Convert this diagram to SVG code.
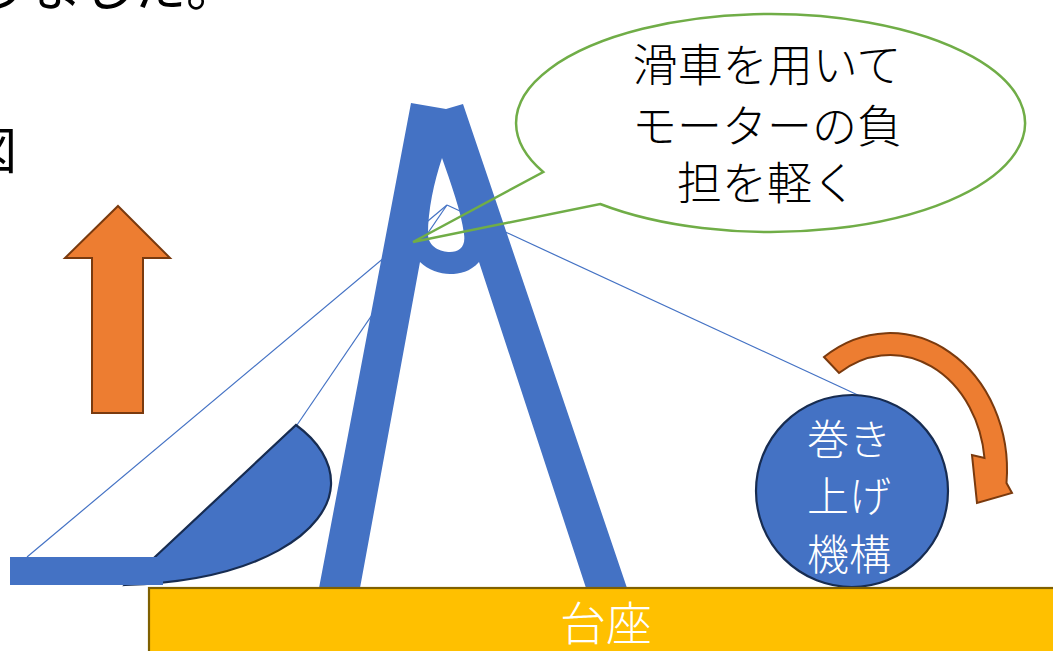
<svg xmlns="http://www.w3.org/2000/svg" width="1053" height="651" viewBox="0 0 1053 651">
  <style>
    .rope { stroke: #4472C4; stroke-width: 1.2; fill: none; }
    .frame { fill: #4472C4; }
    .dark-edge { stroke: #172C51; stroke-width: 2.2; }
    .orange { fill: #ED7D31; stroke: #7A3A0E; stroke-width: 2; stroke-linejoin: miter; }
    .jp { font-family: "Noto Sans CJK JP", "Noto Sans", sans-serif; }
    .light { font-weight: 300; }
    .white { fill: #FFFFFF; }
    .black { fill: #000000; }
  </style>

  <rect width="1053" height="651" fill="#FFFFFF"/>

  <!-- heading text cropped at the page edge -->
  <g id="heading">
    <text class="jp black" x="-22" y="6" font-size="52">りました。</text>
    <text class="jp black" x="-33" y="169" font-size="50">図</text>
  </g>

  <!-- rope running over the pulley -->
  <g id="connectors">
    <line class="rope" x1="27" y1="557" x2="447" y2="205"/>
    <line class="rope" x1="297" y1="425" x2="447" y2="205"/>
    <line class="rope" x1="447" y1="205" x2="860" y2="396"/>
  </g>

  <!-- A-frame with pulley hook -->
  <g id="a-frame">
    <path class="frame" fill-rule="evenodd" d="
      M411,103 L446,109 L463,104 L627,588 L586,588 L479,262
      C470,272 460,274 450,274 C440,274 428,270 420,262
      L360,588 L319,588 Z
      M442,158 C451,184 461,211 464,234 C466,247 459,252 450,252
      C441,252 428,247 428,234 C428,210 434,182 442,158 Z"/>
  </g>

  <!-- bucket on the boom -->
  <g id="bucket">
    <path class="frame dark-edge" d="M296,425 C318,441 332,462 331,485 C329,530 262,581 125,585 L296,425 Z"/>
    <rect class="frame" x="10" y="557" width="153" height="28"/>
  </g>

  <!-- lifting direction -->
  <g id="up-arrow">
    <path class="orange" d="M118,206 L170,258 L143,258 L143,413 L92,413 L92,258 L65,258 Z"/>
  </g>

  <!-- winding direction -->
  <g id="turn-arrow">
    <path class="orange" d="M824,357 A117,137 0 0 1 1006.5,483 L1012,493 L977,503 L972,455 L984.5,458 A95,115 0 0 0 839,373 Z"/>
  </g>

  <!-- winch -->
  <g id="winch">
    <circle cx="852" cy="491" r="96" fill="#4472C4" stroke="#172C51" stroke-width="2.2"/>
    <text class="jp light white" x="849" y="455" font-size="42" text-anchor="middle">巻き</text>
    <text class="jp light white" x="849" y="512" font-size="42" text-anchor="middle">上げ</text>
    <text class="jp light white" x="849" y="570" font-size="42" text-anchor="middle">機構</text>
  </g>

  <!-- base -->
  <g id="base">
    <rect x="149" y="588" width="920" height="80" fill="#FFC000" stroke="#7F6000" stroke-width="2.2"/>
    <text class="jp light white" x="606" y="640" font-size="46" text-anchor="middle">台座</text>
  </g>

  <!-- callout -->
  <g id="callout">
    <path d="M543.2,172 A254.5,109 0 1 1 600.2,204 L413,242 Z" fill="none" stroke="#70AD47" stroke-width="2.5" stroke-linejoin="miter"/>
    <text class="jp light black" x="767" y="82" font-size="45" text-anchor="middle">滑車を用いて</text>
    <text class="jp light black" x="767" y="143" font-size="45" text-anchor="middle">モーターの負</text>
    <text class="jp light black" x="767" y="200" font-size="45" text-anchor="middle">担を軽く</text>
  </g>
</svg>
